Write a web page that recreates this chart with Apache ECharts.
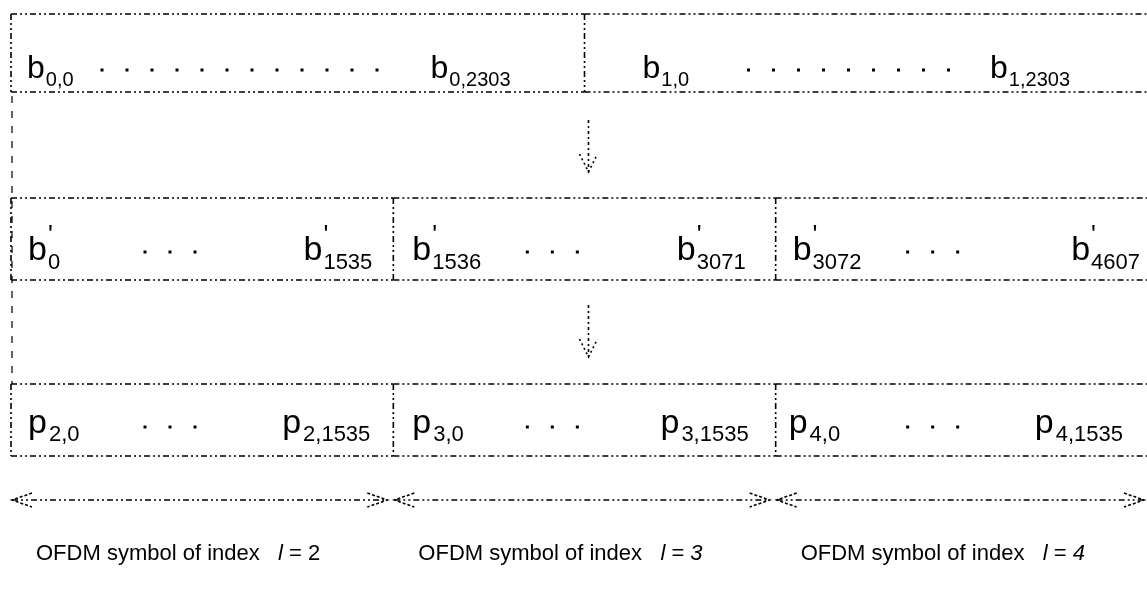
<!DOCTYPE html>
<html>
<head>
<meta charset="utf-8">
<script src="https://cdn.jsdelivr.net/npm/echarts@6/dist/echarts.min.js"></script>
<style>
html,body{margin:0;padding:0;background:#fff;}
#main{width:1147px;height:590px;}
</style>
</head>
<body>
<div id="main"></div>
<script>
// data: bit ranges and their labels
var totalBits = 4608;
var codewordStarts = [0, 2304];
var codewordLength = 2304;
var codewordFirst = ['0,0', '1,0'];
var codewordLast = ['0,2303', '1,2303'];
var symbolStarts = [0, 1536, 3072];
var symbolLength = 1536;
var interleavedFirst = ['0', '1536', '3072'];
var interleavedLast = ['1535', '3071', '4607'];
var cellFirst = ['2,0', '3,0', '4,0'];
var cellLast = ['2,1535', '3,1535', '4,1535'];
var symbolIndex = ['2', '3', '4'];

var FONT = '"Liberation Sans", Arial, sans-serif';
var DASH = [6, 3, 2, 3, 2, 3];
var ctx = document.createElement('canvas').getContext('2d');
function textW(str, fs, italic) {
  ctx.font = (italic ? 'italic ' : '') + fs + 'px ' + FONT;
  return ctx.measureText(str).width;
}
function txt(x, base, str, fs, italic) {
  return {
    type: 'text', x: x, y: base - 0.31 * fs,
    style: { text: str, fontSize: fs, fontFamily: FONT, fontStyle: italic ? 'italic' : 'normal',
             fill: '#000', align: 'left', verticalAlign: 'middle' }
  };
}
// letter with optional prime and subscript
function symLabel(x, base, main, prime, sub, cfg, alignRight) {
  var mw = textW(main, cfg.fs);
  var sw = textW(sub, cfg.subFs);
  var pw = prime ? textW("'", cfg.fs * 0.75) : 0;
  var total = mw + cfg.gap + Math.max(sw, pw);
  var x0 = alignRight ? x - total : x;
  var out = [txt(x0, base, main, cfg.fs)];
  if (prime) out.push(txt(x0 + mw + 1, base - cfg.fs * 0.5, "'", cfg.fs * 0.75));
  out.push(txt(x0 + mw + cfg.gap, base + cfg.subDrop, sub, cfg.subFs));
  return out;
}
function hline(x1, x2, y, dash, w) {
  return { type: 'line', shape: { x1: x1, y1: y, x2: x2, y2: y },
           style: { stroke: '#000', lineWidth: w || 1.6, lineDash: dash || DASH } };
}
function vline(x, y1, y2, dash, w) {
  return { type: 'line', shape: { x1: x, y1: y1, x2: x, y2: y2 },
           style: { stroke: '#000', lineWidth: w || 1.6, lineDash: dash || DASH } };
}
function dots(x, y, n, step) {
  var arr = [];
  for (var i = 0; i < n; i++) {
    arr.push({ type: 'rect', shape: { x: x + i * step - 1.5, y: y - 1.5, width: 3, height: 3 }, style: { fill: '#000' } });
  }
  return arr;
}

// row layout (pixel bands on the hidden y axis)
var rows = {
  cw:   { top: 14,  bottom: 92,  base: 79,  dotY: 70,  fs: 32, subFs: 20, subDrop: 8,  gap: 1 },
  il:   { top: 198, bottom: 280, base: 261, dotY: 252, fs: 34, subFs: 22, subDrop: 9,  gap: 1 },
  cell: { top: 384, bottom: 456, base: 434, dotY: 427, fs: 34, subFs: 22, subDrop: 8,  gap: 2 }
};

function boxRow(rowKey, firstLbl, lastLbl, letter, prime, opts) {
  var r = rows[rowKey];
  return function (params, api) {
    var i = params.dataIndex;
    var s = api.value(0), e = api.value(1);
    var p0 = api.coord([s, r.top]);
    var p1 = api.coord([e, r.bottom]);
    var x0 = p0[0], x1 = p1[0], y0 = p0[1], y1 = p1[1];
    var ch = [hline(x0, x1, y0), hline(x0, x1, y1), vline(x0, y0, y1)];
    ch = ch.concat(symLabel(x0 + opts.first[i], r.base, letter, prime, firstLbl[i], r, false));
    ch = ch.concat(symLabel(x1 - opts.last[i], r.base, letter, prime, lastLbl[i], r, true));
    ch = ch.concat(dots(x0 + opts.dotStart[i], r.dotY, opts.dotCount[i], 25));
    return { type: 'group', children: ch };
  };
}

var chartDom = document.getElementById('main');
var myChart = echarts.init(chartDom);

var option = {
  animation: false,
  grid: { left: 11, top: 0, right: -11, bottom: 0, outerBoundsMode: 'none', containLabel: false },
  xAxis: { type: 'value', min: 0, max: totalBits, show: false },
  yAxis: { type: 'value', min: 0, max: 590, inverse: true, show: false },
  series: [
    {
      type: 'custom', name: 'codewords', clip: false,
      data: codewordStarts.map(function (s) { return [s, s + codewordLength]; }),
      renderItem: boxRow('cw', codewordFirst, codewordLast, 'b', false,
        { first: [16, 58], last: [74, 88], dotStart: [91, 164], dotCount: [12, 9] })
    },
    {
      type: 'custom', name: 'interleaved', clip: false,
      data: symbolStarts.map(function (s) { return [s, s + symbolLength]; }),
      renderItem: boxRow('il', interleavedFirst, interleavedLast, 'b', true,
        { first: [17, 19, 17], last: [21, 30, 18], dotStart: [134, 134, 132], dotCount: [3, 3, 3] })
    },
    {
      type: 'custom', name: 'cells', clip: false,
      data: symbolStarts.map(function (s) { return [s, s + symbolLength]; }),
      renderItem: boxRow('cell', cellFirst, cellLast, 'p', false,
        { first: [17, 19, 13], last: [23, 27, 35], dotStart: [134, 134, 132], dotCount: [3, 3, 3] })
    },
    {
      // vertical flow arrows and the left guide line
      type: 'custom', name: 'flow', clip: false,
      data: [[codewordLength, 0]],
      renderItem: function (params, api) {
        var pc = api.coord([api.value(0), 0]);
        var x = pc[0] + 4;
        var ch = [];
        [[120, 172], [305, 357]].forEach(function (a) {
          ch.push(vline(x, a[0], a[1], [3, 3, 2, 3], 1.6));
          ch.push({ type: 'polyline', shape: { points: [[x - 9, a[1] - 18], [x, a[1]], [x + 9, a[1] - 18]] },
                    style: { stroke: '#000', lineWidth: 1.6, lineDash: [2, 3], fill: null } });
        });
        var pl = api.coord([0, 0]);
        ch.push(vline(pl[0] + 1, rows.cw.bottom + 4, rows.cell.top, [7, 8], 1.2));
        return { type: 'group', children: ch };
      }
    },
    {
      // span arrows and symbol names
      type: 'custom', name: 'symbols', clip: false,
      data: symbolStarts.map(function (s) { return [s, s + symbolLength]; }),
      renderItem: function (params, api) {
        var i = params.dataIndex;
        var a = api.coord([api.value(0), 500]);
        var b = api.coord([api.value(1), 500]);
        var xa = a[0] + 1, xb = Math.min(b[0] - 6, api.getWidth() - 3), y = a[1];
        var ch = [hline(xa, xb, y, DASH, 1.4)];
        ch.push({ type: 'polyline', shape: { points: [[xa + 20, y - 7], [xa, y], [xa + 20, y + 7]] },
                  style: { stroke: '#000', lineWidth: 1.6, lineDash: [3, 2], fill: null } });
        ch.push({ type: 'polyline', shape: { points: [[xb - 20, y - 7], [xb, y], [xb - 20, y + 7]] },
                  style: { stroke: '#000', lineWidth: 1.6, lineDash: [3, 2], fill: null } });
        var lx = a[0] + 25, base = 561, fs = 22;
        var t1 = 'OFDM symbol of index   ';
        var w1 = textW(t1, fs);
        ch.push(txt(lx, base, t1, fs));
        ch.push(txt(lx + w1, base, 'l', fs, true));
        var wl = textW('l', fs, true);
        ch.push(txt(lx + w1 + wl, base, ' = ', fs));
        var we = textW(' = ', fs);
        ch.push(txt(lx + w1 + wl + we, base, symbolIndex[i], fs, i > 0));
        return { type: 'group', children: ch };
      }
    }
  ]
};

option && myChart.setOption(option);
</script>
</body>
</html>
